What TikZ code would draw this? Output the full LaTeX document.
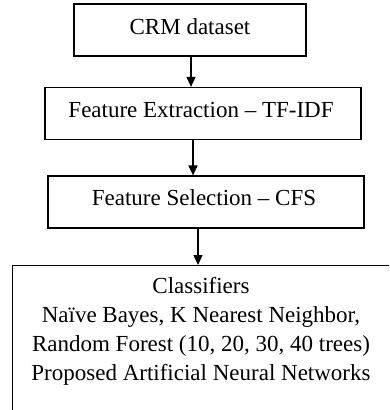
\documentclass[tikz,border=0pt]{standalone}
\usepackage{fontspec}
\setmainfont{Liberation Serif}
\usetikzlibrary{arrows.meta}
\begin{document}
\begin{tikzpicture}[x=1pt,y=1pt,
  stagebox/.style={draw=black, line width=1.2pt, minimum height=52pt, inner sep=0pt, font=\fontsize{23}{29}\selectfont},
  flow/.style={draw=black, line width=1.4pt, -{Triangle[length=10pt,width=9pt]}}]
\useasboundingbox (0,0) rectangle (389,-410);
\clip (0,0) rectangle (389,-410);
\node[stagebox, minimum width=232pt] (crm) at (190,-30) {};
\node[font=\fontsize{23}{29}\selectfont] (crmtext) at (190,-27) {CRM dataset};
\node[stagebox, minimum width=316pt] (fe) at (203,-113.5) {};
\node[font=\fontsize{23}{29}\selectfont] (fetext) at (201,-110) {Feature Extraction -- TF-IDF};
\node[stagebox, minimum width=316pt] (fs) at (206,-202) {};
\node[font=\fontsize{23}{29}\selectfont] (fstext) at (204,-198) {Feature Selection -- CFS};
\node[draw=black, line width=1.2pt, minimum width=378pt, minimum height=170pt, anchor=north west, inner sep=0pt] (cls) at (12,-265) {};
\node[font=\fontsize{23}{29}\selectfont, align=center, anchor=north] (clstext) at (201,-274) {Classifiers\\Naïve Bayes, K Nearest Neighbor,\\Random Forest (10, 20, 30, 40 trees)\\Proposed Artificial Neural Networks};
\draw[flow] (crm.south -| 191,0) -- (fe.north -| 191,0);
\draw[flow] (fe.south -| 193,0) -- (fs.north -| 193,0);
\draw[flow] (fs.south -| 198,0) -- (cls.north -| 198,0);
\end{tikzpicture}
\end{document}
